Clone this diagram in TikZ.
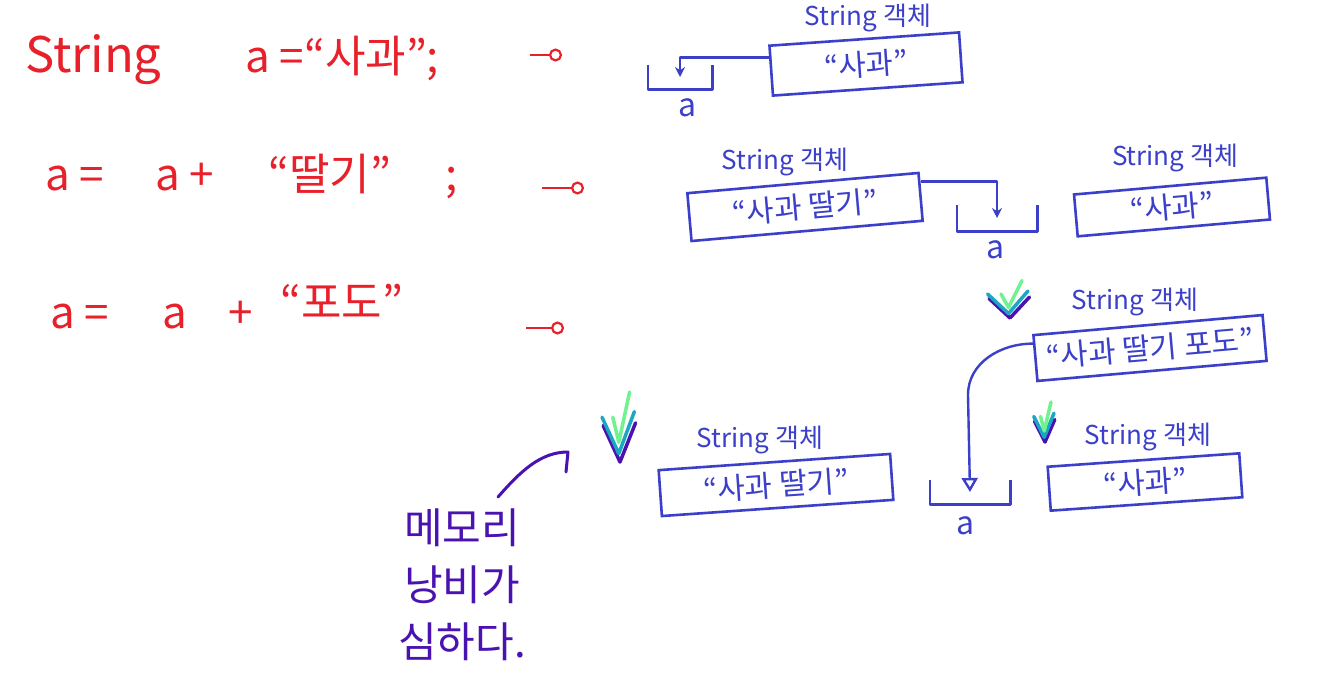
\documentclass[tikz,border=0pt]{standalone}
\usepackage{fontspec}
\setmainfont{Noto Sans CJK KR}
\usetikzlibrary{arrows.meta,calc}
\definecolor{penred}{HTML}{E8202A}
\definecolor{penblue}{HTML}{3B3FC9}
\definecolor{penpurple}{HTML}{4A12B0}
\definecolor{pengreen}{HTML}{72F28E}
\definecolor{penteal}{HTML}{1BA6C4}
\tikzset{
 code/.style={text=penred,font=\fontsize{44}{48}\selectfont,inner sep=0pt,anchor=base west},
 objbox/.style={draw=penblue,line width=2.6pt,text=penblue,font=\fontsize{30}{34}\selectfont,inner sep=0pt},
 objlabel/.style={text=penblue,font=\fontsize{26}{30}\selectfont,inner sep=0pt},
 varbox/.style={inner sep=0pt},
 varlabel/.style={text=penblue,font=\fontsize{32}{32}\selectfont,inner sep=0pt},
 ushape/.style={draw=penblue,line width=2.6pt,line join=round},
 ptr/.style={draw=penblue,line width=2.4pt,line join=round,-{Stealth[length=10pt,width=10pt]}},
 ptrtri/.style={draw=penblue,line width=2.4pt,-{Triangle[open,length=14pt,width=16pt]}},
 redptr/.style={draw=penred,line width=2.2pt,-{Circle[open,length=13pt,width=13pt]}},
 chk/.style={line width=3.5pt,line cap=round,line join=round},
 check/.pic={
   \draw[chk,penpurple] (-14,-26) -- (0,0) -- (13,-28);
   \draw[chk,penteal] (-15,-32) -- (-1,-6) -- (12,-36);
   \draw[chk,pengreen] (-6,-32) -- (-1,-14) -- (8,-50);
 },
}
\begin{document}
\begin{tikzpicture}[x=1pt,y=-1pt]
\fill[white] (0,0) rectangle (1326,696);
\useasboundingbox (0,0) rectangle (1326,696);

% red code
\node[code,font=\fontsize{49}{52}\selectfont] (c1a) at (25,72) {String};
\node[code] (c1b) at (245,72) {a =“사과”;};
\node[code] (c2a) at (45,190) {a =};
\node[code] (c2b) at (155,190) {a +};
\node[code] (c2c) at (268,190) {“딸기”};
\node[code] (c2d) at (445,190) {;};
\node[code] (c3a) at (50,328) {a =};
\node[code] (c3b) at (162,328) {a};
\node[code] (c3c) at (228,328) {+};
\node[code] (c3d) at (280,318) {“포도”};

% red arrows
\coordinate (r1s) at (530,55); \coordinate (r1e) at (562,55);
\coordinate (r2s) at (542,188); \coordinate (r2e) at (584,188);
\coordinate (r3s) at (526,328); \coordinate (r3e) at (564,328);
\draw[redptr] (r1s) -- (r1e);
\draw[redptr] (r2s) -- (r2e);
\draw[redptr] (r3s) -- (r3e);

% row 1
\node[objbox,minimum width=190pt,minimum height=50pt,rotate=4] (s1) at (866,64) {“사과”};
\node[objlabel] (l1) at (868,18) {String 객체};
\node[varbox,minimum width=64pt,minimum height=24pt] (v1) at (680,77) {};
\draw[ushape] (v1.north west) -- (v1.south west) -- (v1.south east) -- (v1.north east);
\node[varlabel] (a1) at (688,108) {a};
\draw[ptr] ($(s1.north west)!0.25!(s1.south west)$) -| (v1.center);

% row 2
\node[objbox,minimum width=232pt,minimum height=48pt,rotate=5] (s2l) at (805,207) {“사과 딸기”};
\node[objlabel] (l2l) at (785,162) {String 객체};
\node[varbox,minimum width=80pt,minimum height=26pt] (v2) at (997,218) {};
\draw[ushape] (v2.north west) -- (v2.south west) -- (v2.south east) -- (v2.north east);
\node[varlabel] (a2) at (995,250) {a};
\draw[ptr] ($(s2l.north east)!0.2!(s2l.south east)$) -| (v2.center);
\node[objbox,minimum width=193pt,minimum height=42pt,rotate=5] (s2r) at (1172,207) {“사과”};
\node[objlabel] (l2r) at (1175,158) {String 객체};

% row 3
\node[objbox,minimum width=230pt,minimum height=46pt,rotate=5] (s3t) at (1150,348) {“사과 딸기 포도”};
\node[objlabel] (l3t) at (1135,302) {String 객체};
\node[varbox,minimum width=80pt,minimum height=24pt] (v3) at (970,492) {};
\draw[ushape] (v3.north west) -- (v3.south west) -- (v3.south east) -- (v3.north east);
\node[varlabel] (a3) at (965,526) {a};
\draw[ptrtri] ($(s3t.north west)!0.2!(s3t.south west)$) to[out=180,in=90] (968,395) -- (v3.center);
\node[objbox,minimum width=192pt,minimum height=44pt,rotate=4] (s3b) at (1145,482) {“사과”};
\node[objlabel] (l3b) at (1148,437) {String 객체};
\node[objbox,minimum width=232pt,minimum height=46pt,rotate=4] (s4) at (776,485) {“사과 딸기”};
\node[objlabel] (l4) at (760,440) {String 객체};

% check marks
\pic[xscale=1.2,yscale=1.4] at (620,462) {check};
\pic[xscale=1.5,yscale=0.75] at (1010,318) {check};
\pic[xscale=0.75,yscale=0.8] at (1045,442) {check};

% memory note
\node[text=penpurple,font=\fontsize{42}{57}\selectfont,align=center,inner sep=0pt] (mem) at (462,585) {메모리\\낭비가\\심하다.};
\coordinate (h0) at (498,497);
\coordinate (h1) at (568,452);
\coordinate (h2) at (566,472);
\draw[penpurple,line width=3pt,line cap=round,line join=round] (h0) .. controls (520,472) and (540,452) .. (h1) -- (h2);
\end{tikzpicture}
\end{document}
